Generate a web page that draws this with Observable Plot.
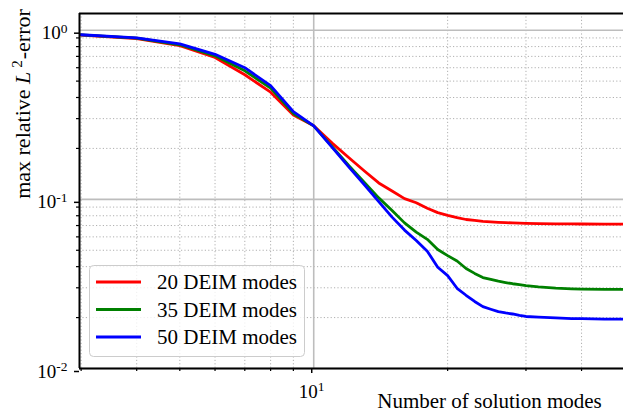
<!DOCTYPE html>
<html><head><meta charset="utf-8">
<script src="https://cdn.jsdelivr.net/npm/d3@7"></script>
<script src="https://cdn.jsdelivr.net/npm/@observablehq/plot@0.6"></script>
<style>body{margin:0;background:#fff} svg{display:block}</style>
</head><body><div id="chart"></div>
<script>
const modes  = [3,4,5,6,7,8,9,10,11,12,13,14,15,16,17,18,19,20,21,22,23,24,25,26,27,28,29,30,32,35,38,40,45,50];
const deim20 = [0.935,0.893,0.81,0.69,0.545,0.43,0.315,0.272,0.215,0.176,0.147,0.125,0.112,0.101,0.0955,0.0885,0.0835,0.0805,0.078,0.076,0.075,0.074,0.0735,0.0731,0.0728,0.0725,0.0723,0.0721,0.0719,0.0717,0.0716,0.0715,0.0714,0.0714];
const deim35 = [0.938,0.897,0.82,0.705,0.575,0.455,0.322,0.272,0.205,0.158,0.126,0.102,0.086,0.0726,0.064,0.058,0.0505,0.0465,0.0432,0.039,0.0365,0.0345,0.0336,0.0328,0.0322,0.0317,0.0313,0.0309,0.0304,0.0299,0.0296,0.0295,0.0294,0.0294];
const deim50 = [0.94,0.9,0.83,0.72,0.6,0.47,0.33,0.272,0.203,0.155,0.122,0.097,0.0785,0.0658,0.0571,0.0494,0.0397,0.0354,0.0298,0.0271,0.0249,0.0232,0.0224,0.0217,0.0213,0.021,0.0206,0.0203,0.0201,0.0199,0.0197,0.0197,0.0196,0.0196];
const seriesNames  = ["20 DEIM modes","35 DEIM modes","50 DEIM modes"];
const seriesColors = ["#ff0000","#008000","#0000ff"];
const xMajorTicks = [10];
const xMinorTicks = [3,4,5,6,7,8,9,20,30,40];
const yMajorTicks = [0.01,0.1,1];
const yMinorTicks = [0.02,0.03,0.04,0.05,0.06,0.07,0.08,0.09,0.2,0.3,0.4,0.5,0.6,0.7,0.8,0.9];
const xDomain = [2.975,49.7];
const yDomain = [0.01,1.255];
const xLabel = "Number of solution modes";

const allSeries = [deim20, deim35, deim50];
const rows = [];
allSeries.forEach((vals, s) => modes.forEach((n, i) => rows.push({n, err: vals[i], series: seriesNames[s]})));

const font = "'Liberation Serif', 'Times New Roman', serif";
const fmtPow = d => "10^" + Math.round(Math.log10(d));
const gridColor = "#b0b0b0";

const plot = Plot.plot({
  width: 623, height: 414,
  marginLeft: 79, marginRight: 0, marginTop: 13, marginBottom: 46,
  style: {fontFamily: font, fontSize: "19px", background: "white", color: "black"},
  x: {type: "log", domain: xDomain, label: null},
  y: {type: "log", domain: yDomain, label: null},
  color: {domain: seriesNames, range: seriesColors},
  marks: [
    Plot.gridX(xMinorTicks, {stroke: gridColor, strokeOpacity: 1, strokeWidth: 1, strokeDasharray: "1.2,2.2"}),
    Plot.gridY(yMinorTicks, {stroke: gridColor, strokeOpacity: 1, strokeWidth: 1, strokeDasharray: "1.2,2.2"}),
    Plot.gridX(xMajorTicks, {stroke: "#bdbdbd", strokeOpacity: 1, strokeWidth: 1.6}),
    Plot.gridY(yMajorTicks, {stroke: "#bdbdbd", strokeOpacity: 1, strokeWidth: 1.6}),
    Plot.line(rows, {x: "n", y: "err", z: "series", stroke: "series", strokeWidth: 2.8, strokeLinejoin: "round", clip: true}),
    Plot.ruleX([xDomain[0]], {stroke: "black", strokeWidth: 2}),
    Plot.ruleY([yDomain[0]], {stroke: "black", strokeWidth: 2}),
    Plot.ruleY([yDomain[1]], {stroke: "black", strokeWidth: 2}),
    Plot.axisX({ticks: xMajorTicks, tickSize: 5, tickPadding: 10.5, dx: -2, strokeWidth: 1.5, tickFormat: fmtPow, label: null}),
    Plot.axisX({ticks: xMinorTicks, tickSize: 3, strokeWidth: 1.2, tickFormat: () => "", label: null}),
    Plot.axisY({ticks: yMajorTicks, tickSize: 5, tickPadding: 7, dy: 3, strokeWidth: 1.5, tickFormat: fmtPow, label: null}),
    Plot.axisY({ticks: yMinorTicks, tickSize: 3, strokeWidth: 1.2, tickFormat: () => "", label: null})
  ]
});
document.getElementById("chart").appendChild(plot);

const svg = d3.select(plot);
svg.attr("font-family", font);
// superscript tick labels
svg.selectAll("text").each(function() {
  const m = /^10\^(-?\d+)$/.exec(this.textContent);
  if (!m) return;
  const t = d3.select(this);
  t.style("font-family", font).style("font-size", "19px");
  t.text("10");
  t.append("tspan").attr("dy", "-0.5em").style("font-size", "13.5px").text(m[1]);
});

// y label
const yl = svg.append("text").attr("transform", "translate(30,104) rotate(-90)")
  .attr("text-anchor", "middle").attr("font-family", font).attr("font-size", "22px").attr("fill", "black");
yl.append("tspan").text("max relative ");
yl.append("tspan").attr("font-style", "italic").text("L");
yl.append("tspan").attr("dx", "4").attr("dy", "-8").attr("font-size", "15px").text("2");
yl.append("tspan").attr("dx", "1").attr("dy", "8").text("-error");

// x label
svg.append("text").attr("x", 489.5).attr("y", 408).attr("text-anchor", "middle")
  .attr("font-family", font).attr("font-size", "21px").attr("fill", "black").text(xLabel);

// legend
const lg = svg.append("g");
lg.append("rect").attr("x", 89.5).attr("y", 265.5).attr("width", 215).attr("height", 91).attr("rx", 4)
  .attr("fill", "white").attr("fill-opacity", 0.8).attr("stroke", "#cccccc").attr("stroke-width", 1);
seriesNames.forEach((name, i) => {
  const y = 282 + i * 27.5;
  lg.append("line").attr("x1", 96).attr("x2", 141).attr("y1", y).attr("y2", y)
    .attr("stroke", seriesColors[i]).attr("stroke-width", 2.8);
  lg.append("text").attr("x", 157).attr("y", y + 7.3).attr("text-anchor", "start")
    .attr("font-family", font).attr("font-size", "21px").attr("fill", "black").text(name);
});
</script></body></html>
